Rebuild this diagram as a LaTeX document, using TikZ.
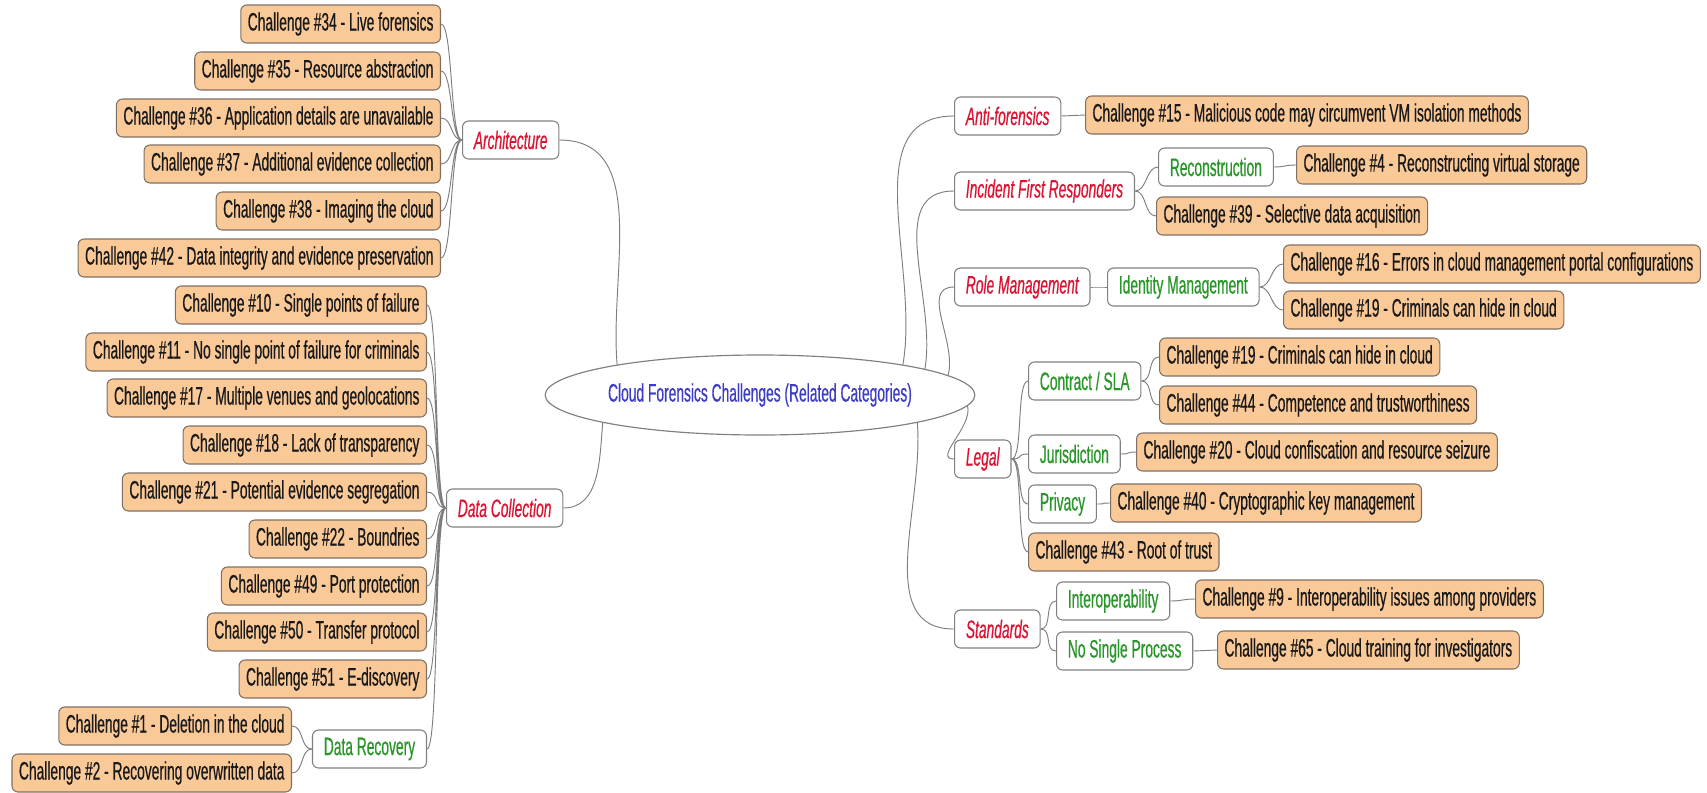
\documentclass[tikz,border=0pt]{standalone}
\usepackage{fontspec}
\setmainfont[FakeStretch=0.548, FakeBold=0.5]{Liberation Sans}
\usetikzlibrary{shapes.geometric}

\definecolor{boxfill}{RGB}{250,201,152}
\definecolor{boxline}{RGB}{128,112,98}
\definecolor{catred}{RGB}{218,20,50}
\definecolor{subgreen}{RGB}{40,150,40}
\definecolor{hubblue}{RGB}{60,60,200}
\definecolor{linkgray}{RGB}{125,125,130}

\tikzset{
  chal/.style={draw=boxline, fill=boxfill, rounded corners=1.8mm, line width=0.9pt,
    minimum height=11.4mm, inner xsep=2.1mm, inner ysep=0pt, text=black!90,
    font=\fontsize{21.5}{24}\selectfont},
  cat/.style={chal, draw=gray, fill=white, inner xsep=3.4mm, text=catred,
    font=\fontsize{21.5}{24}\selectfont\itshape},
  sub/.style={chal, draw=gray, fill=white, inner xsep=3.4mm, text=subgreen},
  hub/.style={ellipse, draw=gray, fill=white, line width=1pt, minimum width=105.6mm,
    minimum height=24mm, inner sep=0pt, text=hubblue, font=\fontsize{21.5}{24}\selectfont},
  link/.style={draw=linkgray, line width=0.8pt},
  toleft/.style={out=180, in=0, distance=3.6mm},
  toright/.style={out=0, in=180, distance=3.6mm},
}

\begin{document}
\begin{tikzpicture}[x=0.3mm, y=-0.3mm]
    \useasboundingbox ( 0, 0 ) rectangle ( 1707, 792 );
    % центр
    \node [hub] (hub) at ( 760, 395 ) {Cloud Forensics Challenges (Related Categories)};

    % левая часть
    \node [cat, anchor=west] (arch) at ( 462, 140 ) {Architecture};
    \node [chal, anchor=east] (c34) at ( 441, 24 ) {Challenge \#34 - Live forensics};
    \node [chal, anchor=east] (c35) at ( 441, 71 ) {Challenge \#35 - Resource abstraction};
    \node [chal, anchor=east] (c36) at ( 441, 118 ) {Challenge \#36 - Application details are unavailable};
    \node [chal, anchor=east] (c37) at ( 441, 164 ) {Challenge \#37 - Additional evidence collection};
    \node [chal, anchor=east] (c38) at ( 441, 211 ) {Challenge \#38 - Imaging the cloud};
    \node [chal, anchor=east] (c42) at ( 441, 258 ) {Challenge \#42 - Data integrity and evidence preservation};

    \node [cat, anchor=west] (dcol) at ( 446, 508 ) {Data Collection};
    \node [chal, anchor=east] (c10) at ( 427, 305 ) {Challenge \#10 - Single points of failure};
    \node [chal, anchor=east] (c11) at ( 427, 352 ) {Challenge \#11 - No single point of failure for criminals};
    \node [chal, anchor=east] (c17) at ( 427, 398 ) {Challenge \#17 - Multiple venues and geolocations};
    \node [chal, anchor=east] (c18) at ( 427, 445 ) {Challenge \#18 - Lack of transparency};
    \node [chal, anchor=east] (c21) at ( 427, 492 ) {Challenge \#21 - Potential evidence segregation};
    \node [chal, anchor=east] (c22) at ( 427, 539 ) {Challenge \#22 - Boundries};
    \node [chal, anchor=east] (c49) at ( 427, 586 ) {Challenge \#49 - Port protection};
    \node [chal, anchor=east] (c50) at ( 427, 632 ) {Challenge \#50 - Transfer protocol};
    \node [chal, anchor=east] (c51) at ( 427, 679 ) {Challenge \#51 - E-discovery};
    \node [sub, anchor=east] (drec) at ( 427, 749 ) {Data Recovery};
    \node [chal, anchor=east] (c01) at ( 292, 726 ) {Challenge \#1 - Deletion in the cloud};
    \node [chal, anchor=east] (c02) at ( 292, 773 ) {Challenge \#2 - Recovering overwritten data};

    % правая часть
    \node [cat, anchor=west] (anti) at ( 954, 116 ) {Anti-forensics};
    \node [chal, anchor=west] (c15) at ( 1085, 115 ) {Challenge \#15 - Malicious code may circumvent VM isolation methods};

    \node [cat, anchor=west] (ifr) at ( 954, 191 ) {Incident First Responders};
    \node [sub, anchor=west] (recon) at ( 1158, 167 ) {Reconstruction};
    \node [chal, anchor=west] (c04) at ( 1296, 165 ) {Challenge \#4 - Reconstructing virtual storage};
    \node [chal, anchor=west] (c39) at ( 1156, 216 ) {Challenge \#39 - Selective data acquisition};

    \node [cat, anchor=west] (role) at ( 954, 287 ) {Role Management};
    \node [sub, anchor=west] (idm) at ( 1107, 287 ) {Identity Management};
    \node [chal, anchor=west] (c16) at ( 1283, 264 ) {Challenge \#16 - Errors in cloud management portal configurations};
    \node [chal, anchor=west] (c19) at ( 1283, 310 ) {Challenge \#19 - Criminals can hide in cloud};

    \node [cat, anchor=west] (legal) at ( 954, 459 ) {Legal};
    \node [sub, anchor=west] (csla) at ( 1028, 381 ) {Contract / SLA};
    \node [chal, anchor=west] (c19b) at ( 1159, 357 ) {Challenge \#19 - Criminals can hide in cloud};
    \node [chal, anchor=west] (c44) at ( 1159, 405 ) {Challenge \#44 - Competence and trustworthiness};
    \node [sub, anchor=west] (juris) at ( 1028, 454 ) {Jurisdiction};
    \node [chal, anchor=west] (c20) at ( 1136, 452 ) {Challenge \#20 - Cloud confiscation and resource seizure};
    \node [sub, anchor=west] (priv) at ( 1028, 504 ) {Privacy};
    \node [chal, anchor=west] (c40) at ( 1110, 503 ) {Challenge \#40 - Cryptographic key management};
    \node [chal, anchor=west] (c43) at ( 1028, 552 ) {Challenge \#43 - Root of trust};

    \node [cat, anchor=west] (std) at ( 954, 629 ) {Standards};
    \node [sub, anchor=west] (iop) at ( 1056, 601 ) {Interoperability};
    \node [chal, anchor=west] (c09) at ( 1195, 599 ) {Challenge \#9 - Interoperability issues among providers};
    \node [sub, anchor=west] (nsp) at ( 1056, 651 ) {No Single Process};
    \node [chal, anchor=west] (c65) at ( 1217, 650 ) {Challenge \#65 - Cloud training for investigators};

    % ветви от центра
    \draw [link] (hub.168) to [out=95, in=0] (arch.east);
    \draw [link] (hub.190) to [out=-95, in=0] (dcol.east);
    \draw [link] (hub.12) to [out=80, in=180] (anti.west);
    \draw [link] (hub.9) to [out=80, in=180] (ifr.west);
    \draw [link] (hub.6) to [out=75, in=180] (role.west);
    \draw [link] (hub.-3) to [out=-75, in=180] (legal.west);
    \draw [link] (hub.-10) to [out=-85, in=180] (std.west);

    % ветви слева
    \draw [link] (arch.west) to [toleft] (c34.east) (arch.west) to [toleft] (c35.east)
        (arch.west) to [toleft] (c36.east) (arch.west) to [toleft] (c37.east)
        (arch.west) to [toleft] (c38.east) (arch.west) to [toleft] (c42.east);
    \draw [link] (dcol.west) to [toleft] (c10.east) (dcol.west) to [toleft] (c11.east)
        (dcol.west) to [toleft] (c17.east) (dcol.west) to [toleft] (c18.east)
        (dcol.west) to [toleft] (c21.east) (dcol.west) to [toleft] (c22.east)
        (dcol.west) to [toleft] (c49.east) (dcol.west) to [toleft] (c50.east)
        (dcol.west) to [toleft] (c51.east) (dcol.west) to [toleft] (drec.east);
    \draw [link] (drec.west) to [toleft] (c01.east) (drec.west) to [toleft] (c02.east);

    % ветви справа
    \draw [link] (anti.east) to [toright] (c15.west);
    \draw [link] (ifr.east) to [toright] (recon.west) (ifr.east) to [toright] (c39.west);
    \draw [link] (recon.east) to [toright] (c04.west);
    \draw [link] (role.east) to [toright] (idm.west);
    \draw [link] (idm.east) to [toright] (c16.west) (idm.east) to [toright] (c19.west);
    \draw [link] (legal.east) to [toright] (csla.west) (legal.east) to [toright] (juris.west)
        (legal.east) to [toright] (priv.west) (legal.east) to [toright] (c43.west);
    \draw [link] (csla.east) to [toright] (c19b.west) (csla.east) to [toright] (c44.west);
    \draw [link] (juris.east) to [toright] (c20.west);
    \draw [link] (priv.east) to [toright] (c40.west);
    \draw [link] (std.east) to [toright] (iop.west) (std.east) to [toright] (nsp.west);
    \draw [link] (iop.east) to [toright] (c09.west);
    \draw [link] (nsp.east) to [toright] (c65.west);
\end{tikzpicture}
\end{document}
